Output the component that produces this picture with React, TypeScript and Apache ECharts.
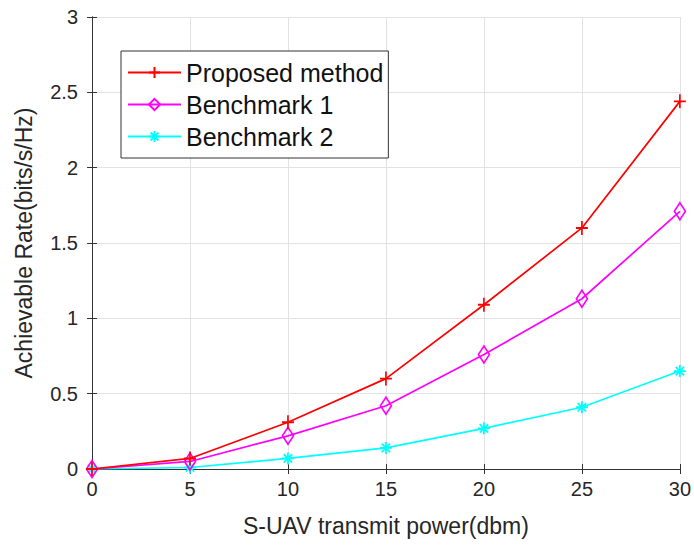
import React, { useEffect, useRef } from "react";
import * as echarts from "echarts";

const xValues = [0, 5, 10, 15, 20, 25, 30];
const proposed = [0, 0.07, 0.31, 0.6, 1.09, 1.6, 2.44];
const bench1 = [0, 0.05, 0.22, 0.42, 0.76, 1.13, 1.71];
const bench2 = [0, 0.01, 0.07, 0.14, 0.27, 0.41, 0.65];
const seriesNames = ["Proposed method", "Benchmark 1", "Benchmark 2"];

const FONT = "'Liberation Sans', Arial, Helvetica, sans-serif";
const TXT = "#262626";
const AX = "#333333";
const GRID = "#e2e2e2";

const plusPath = "path://M5 0L5 10M0 5L10 5";
const starPath = "path://M5 0L5 10M0 5L10 5M1.5 1.5L8.5 8.5M1.5 8.5L8.5 1.5";

export default function App() {
  const ref = useRef<HTMLDivElement>(null);
  useEffect(() => {
    if (!ref.current) return;
    const chart = echarts.init(ref.current, null, { renderer: "svg" });
    const pair = (ys: number[]) => xValues.map((x, i) => [x, ys[i]]);
    const boxAxisLine = { show: true, lineStyle: { color: AX, width: 1 } };
    const tick = { show: true, inside: true, length: 5, lineStyle: { color: AX, width: 1 } };
    chart.setOption({
      animation: false,
      backgroundColor: "#ffffff",
      textStyle: { fontFamily: FONT },
      grid: { left: 92, right: 12, top: 17, bottom: 77, containLabel: false },
      legend: {
        orient: "vertical",
        left: 121,
        top: 51,
        data: seriesNames,
        backgroundColor: "#ffffff",
        borderColor: AX,
        borderWidth: 1,
        borderRadius: 0,
        padding: [9, 5, 9, 6],
        itemGap: 7,
        itemWidth: 53,
        itemHeight: 14,
        textStyle: { fontFamily: FONT, fontSize: 25, color: "#111" },
      },
      xAxis: [
        {
          type: "value",
          min: 0,
          max: 30,
          interval: 5,
          position: "bottom",
          name: "S-UAV transmit power(dbm)",
          nameLocation: "middle",
          nameGap: 45,
          nameTextStyle: { fontFamily: FONT, fontSize: 23, color: TXT },
          axisLine: boxAxisLine,
          axisTick: tick,
          axisLabel: { fontFamily: FONT, fontSize: 20, color: TXT, margin: 10 },
          splitLine: { show: true, lineStyle: { color: GRID, width: 1 } },
        },
        {
          type: "value",
          min: 0,
          max: 30,
          interval: 5,
          position: "top",
          axisLine: boxAxisLine,
          axisTick: tick,
          axisLabel: { show: false },
          splitLine: { show: false },
        },
      ],
      yAxis: [
        {
          type: "value",
          min: 0,
          max: 3,
          interval: 0.5,
          position: "left",
          name: "Achievable Rate(bits/s/Hz)",
          nameLocation: "middle",
          nameGap: 57,
          nameTextStyle: { fontFamily: FONT, fontSize: 23, color: TXT },
          axisLine: boxAxisLine,
          axisTick: tick,
          axisLabel: { fontFamily: FONT, fontSize: 20, color: TXT, margin: 14 },
          splitLine: { show: true, lineStyle: { color: GRID, width: 1 } },
        },
        {
          type: "value",
          min: 0,
          max: 3,
          interval: 0.5,
          position: "right",
          axisLine: boxAxisLine,
          axisTick: tick,
          axisLabel: { show: false },
          splitLine: { show: false },
        },
      ],
      series: [
        {
          name: seriesNames[0],
          type: "line",
          data: pair(proposed),
          symbol: plusPath,
          symbolSize: [12, 14],
          lineStyle: { color: "#ff0000", width: 1.7 },
          itemStyle: { color: "#ff0000", borderColor: "#ff0000", borderWidth: 1.8 },
          z: 4,
        },
        {
          name: seriesNames[1],
          type: "line",
          data: pair(bench1),
          symbol: "diamond",
          symbolSize: [11, 17],
          lineStyle: { color: "#ff00ff", width: 1.7 },
          itemStyle: { color: "rgba(255,255,255,0)", borderColor: "#ff00ff", borderWidth: 1.7 },
          z: 3,
        },
        {
          name: seriesNames[2],
          type: "line",
          data: pair(bench2),
          symbol: starPath,
          symbolSize: [12, 12],
          lineStyle: { color: "#00ffff", width: 1.7 },
          itemStyle: { color: "#00ffff", borderColor: "#00ffff", borderWidth: 1.8 },
          z: 2,
        },
      ],
    });
    return () => chart.dispose();
  }, []);
  return (
    <div
      ref={ref}
      style={{ position: "absolute", left: 0, top: 0, width: 694, height: 546 }}
    />
  );
}
